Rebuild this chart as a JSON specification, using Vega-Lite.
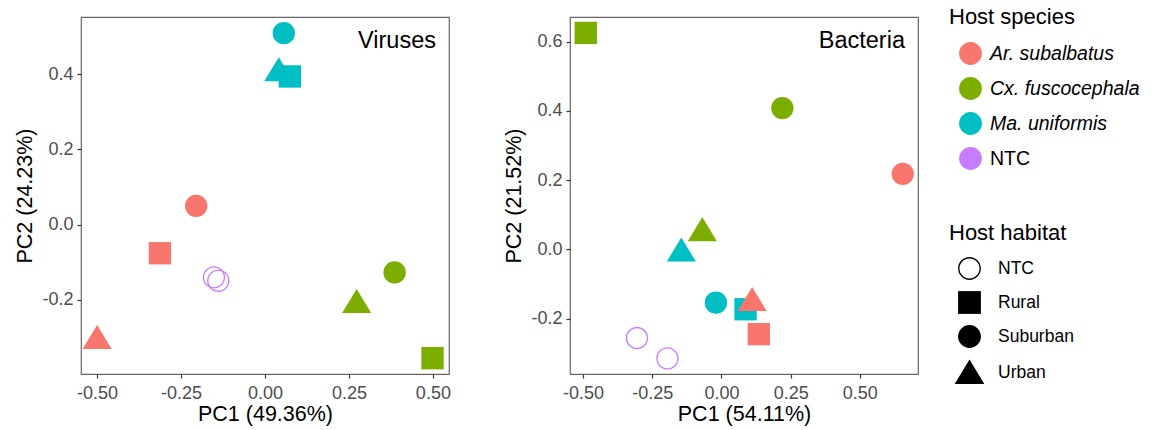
{
  "$schema": "https://vega.github.io/schema/vega-lite/v6.json",
  "padding": {"left": 14, "top": 7, "right": 5, "bottom": 5},
  "background": "white",
  "datasets": {
    "pts": [
      {"panel": "Viruses", "species": "Ma. uniformis", "habitat": "Suburban", "pc1": 0.056, "pc2": 0.509},
      {"panel": "Viruses", "species": "Ma. uniformis", "habitat": "Urban", "pc1": 0.041, "pc2": 0.411},
      {"panel": "Viruses", "species": "Ma. uniformis", "habitat": "Rural", "pc1": 0.074, "pc2": 0.394},
      {"panel": "Viruses", "species": "Ar. subalbatus", "habitat": "Suburban", "pc1": -0.205, "pc2": 0.050},
      {"panel": "Viruses", "species": "Ar. subalbatus", "habitat": "Rural", "pc1": -0.313, "pc2": -0.076},
      {"panel": "Viruses", "species": "Ar. subalbatus", "habitat": "Urban", "pc1": -0.500, "pc2": -0.301},
      {"panel": "Viruses", "species": "NTC", "habitat": "NTC", "pc1": -0.152, "pc2": -0.140},
      {"panel": "Viruses", "species": "NTC", "habitat": "NTC", "pc1": -0.139, "pc2": -0.149},
      {"panel": "Viruses", "species": "Cx. fuscocephala", "habitat": "Suburban", "pc1": 0.386, "pc2": -0.127},
      {"panel": "Viruses", "species": "Cx. fuscocephala", "habitat": "Urban", "pc1": 0.273, "pc2": -0.205},
      {"panel": "Viruses", "species": "Cx. fuscocephala", "habitat": "Rural", "pc1": 0.499, "pc2": -0.355},
      {"panel": "Bacteria", "species": "Cx. fuscocephala", "habitat": "Rural", "pc1": -0.490, "pc2": 0.625},
      {"panel": "Bacteria", "species": "Cx. fuscocephala", "habitat": "Suburban", "pc1": 0.220, "pc2": 0.408},
      {"panel": "Bacteria", "species": "Ar. subalbatus", "habitat": "Suburban", "pc1": 0.655, "pc2": 0.218},
      {"panel": "Bacteria", "species": "Cx. fuscocephala", "habitat": "Urban", "pc1": -0.069, "pc2": 0.056},
      {"panel": "Bacteria", "species": "Ma. uniformis", "habitat": "Urban", "pc1": -0.145, "pc2": -0.003},
      {"panel": "Bacteria", "species": "Ma. uniformis", "habitat": "Suburban", "pc1": -0.020, "pc2": -0.154},
      {"panel": "Bacteria", "species": "Ma. uniformis", "habitat": "Rural", "pc1": 0.087, "pc2": -0.173},
      {"panel": "Bacteria", "species": "Ar. subalbatus", "habitat": "Urban", "pc1": 0.111, "pc2": -0.146},
      {"panel": "Bacteria", "species": "Ar. subalbatus", "habitat": "Rural", "pc1": 0.135, "pc2": -0.245},
      {"panel": "Bacteria", "species": "NTC", "habitat": "NTC", "pc1": -0.305, "pc2": -0.256},
      {"panel": "Bacteria", "species": "NTC", "habitat": "NTC", "pc1": -0.195, "pc2": -0.315}
    ]
  },
  "config": {
    "font": "Liberation Sans",
    "view": {"stroke": "#666666", "strokeWidth": 1.2},
    "axis": {"grid": false, "domain": false, "tickColor": "#333333", "tickSize": 4, "tickWidth": 1.2, "labelColor": "#4d4d4d", "labelFontSize": 18, "titleFontSize": 21.5, "titleFontWeight": "normal", "titleColor": "black", "labelPadding": 4},
    "axisX": {"titlePadding": 1, "labelPadding": 6},
    "axisY": {"titlePadding": 5},
    "legend": {"titleFontSize": 22, "titleFontWeight": "normal", "titleColor": "black", "labelColor": "black", "symbolOffset": 9, "rowPadding": 11, "titlePadding": 12, "symbolSize": 520, "symbolOpacity": 1},
    "title": {"fontSize": 23.5, "fontWeight": "normal", "color": "black", "anchor": "end", "frame": "group", "offset": -35, "dx": -13}
  },
  "spacing": 52,
  "hconcat": [
    {
      "width": 368,
      "height": 357,
      "title": {"text": "Viruses"},
      "data": {"name": "pts"},
      "transform": [{"filter": "datum.panel === 'Viruses'"}],
      "mark": {"type": "point", "filled": true, "opacity": 1, "size": 500},
      "encoding": {
        "x": {"field": "pc1", "type": "quantitative", "scale": {"domain": [-0.548, 0.548], "nice": false, "zero": false}, "axis": {"values": [-0.5, -0.25, 0, 0.25, 0.5], "labelExpr": "(datum.value < 0 ? '-' : '') + format(abs(datum.value), '.2f')", "title": "PC1 (49.36%)"}},
        "y": {"field": "pc2", "type": "quantitative", "scale": {"domain": [-0.397, 0.552], "nice": false, "zero": false}, "axis": {"values": [-0.2, 0, 0.2, 0.4], "labelExpr": "(datum.value < 0 ? '-' : '') + format(abs(datum.value), '.1f')", "title": "PC2 (24.23%)"}},
        "color": {"field": "species", "type": "nominal", "scale": {"domain": ["Ar. subalbatus", "Cx. fuscocephala", "Ma. uniformis", "NTC"], "range": ["#F8766D", "#7CAE00", "#00BFC4", "#C77CFF"]}, "legend": {"title": "Host species", "orient": "none", "legendX": 868, "legendY": -10, "symbolType": "circle", "labelFontSize": 19.5, "labelOffset": 7, "encode": {"labels": {"update": {"fontStyle": {"signal": "datum.value === 'NTC' ? 'normal' : 'italic'"}}}}}},
        "shape": {"field": "habitat", "type": "nominal", "scale": {"domain": ["NTC", "Rural", "Suburban", "Urban"], "range": ["M1,0A1,1,0,1,1,-1,0A1,1,0,1,1,1,0ZM0.88,0A0.88,0.88,0,1,0,-0.88,0A0.88,0.88,0,1,0,0.88,0Z", "square", "circle", "M0,-1.15L-1.3,1.0L1.3,1.0Z"]}, "legend": {"title": "Host habitat", "orient": "none", "legendX": 868, "legendY": 206, "labelFontSize": 17.5, "labelOffset": 17, "symbolFillColor": "black", "symbolStrokeWidth": 0}}
      }
    },
    {
      "width": 348,
      "height": 357,
      "title": {"text": "Bacteria"},
      "data": {"name": "pts"},
      "transform": [{"filter": "datum.panel === 'Bacteria'"}],
      "mark": {"type": "point", "filled": true, "opacity": 1, "size": 500},
      "encoding": {
        "x": {"field": "pc1", "type": "quantitative", "scale": {"domain": [-0.547, 0.71], "nice": false, "zero": false}, "axis": {"values": [-0.5, -0.25, 0, 0.25, 0.5], "labelExpr": "(datum.value < 0 ? '-' : '') + format(abs(datum.value), '.2f')", "title": "PC1 (54.11%)"}},
        "y": {"field": "pc2", "type": "quantitative", "scale": {"domain": [-0.36, 0.671], "nice": false, "zero": false}, "axis": {"values": [-0.2, 0, 0.2, 0.4, 0.6], "labelExpr": "(datum.value < 0 ? '-' : '') + format(abs(datum.value), '.1f')", "title": "PC2 (21.52%)"}},
        "color": {"field": "species", "type": "nominal"},
        "shape": {"field": "habitat", "type": "nominal"}
      }
    }
  ]
}
